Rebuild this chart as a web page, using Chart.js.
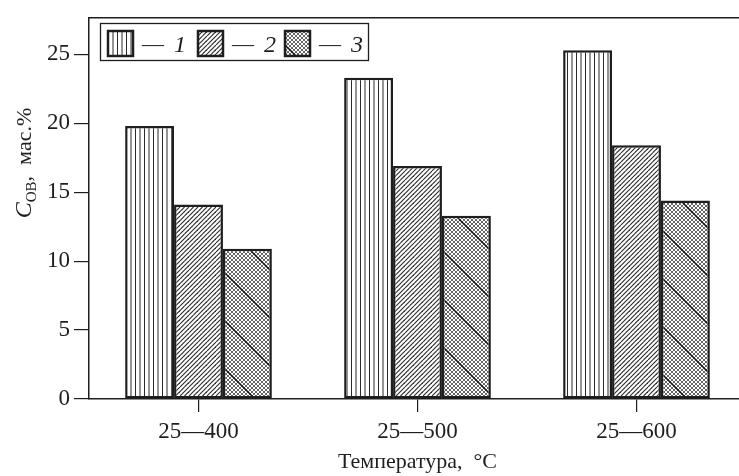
<!DOCTYPE html>
<html>
<head>
<meta charset="utf-8">
<script src="https://cdn.jsdelivr.net/npm/chart.js@4/dist/chart.umd.min.js"></script>
<style>
  html, body { margin: 0; padding: 0; background: #fff; overflow: hidden; }
  #wrap { width: 739px; height: 476px; overflow: hidden; }
</style>
</head>
<body>
<div id="wrap"><canvas id="c" width="760" height="476"></canvas></div>
<script>
const categories = ['25—400', '25—500', '25—600']
const series1 = [19.8, 23.3, 25.3]
const series2 = [14.1, 16.9, 18.4]
const series3 = [10.9, 13.3, 14.4]
const seriesLabels = ['1', '2', '3']
const yTicks = [0, 5, 10, 15, 20, 25]

const ink = '#1e1e1e'
const serif = "'Liberation Serif', 'DejaVu Serif', serif"

// hatch fills
function makeTile(size, draw) {
  const t = document.createElement('canvas')
  t.width = size; t.height = size
  const g = t.getContext('2d')
  g.fillStyle = '#fff'
  g.fillRect(0, 0, size, size)
  g.strokeStyle = '#2a2a2a'
  draw(g, size)
  return document.createElement('canvas').getContext('2d').createPattern(t, 'repeat')
}

const vertical = makeTile(9, (g) => {
  g.lineWidth = 1
  for (const x of [0.5, 5]) { g.beginPath(); g.moveTo(x, 0); g.lineTo(x, 9); g.stroke() }
})

function diag(g, s, d, dir) {
  for (let x0 = -2 * s; x0 <= 2 * s; x0 += d) {
    g.beginPath()
    if (dir > 0) { g.moveTo(x0, s); g.lineTo(x0 + s, 0) }
    else { g.moveTo(x0, 0); g.lineTo(x0 + s, s) }
    g.stroke()
  }
}

const slashes = makeTile(9, (g, s) => { g.lineWidth = 1.1; diag(g, s, 4.5, 1) })

const cross = makeTile(48, (g, s) => {
  g.strokeStyle = '#555'
  g.lineWidth = 0.9
  diag(g, s, 4, 1)
  diag(g, s, 4, -1)
  g.lineWidth = 1.5
  g.strokeStyle = '#111'
  diag(g, s, 48, -1)
})

const fills = [vertical, slashes, cross]

const frame = {
  id: 'frame',
  afterDraw(chart) {
    const { ctx, chartArea: a } = chart
    ctx.save()
    ctx.strokeStyle = ink
    ctx.lineWidth = 1.5
    ctx.beginPath(); ctx.moveTo(a.left, a.top); ctx.lineTo(a.right + 20, a.top); ctx.stroke()

    // legend box
    ctx.lineWidth = 1.3
    ctx.strokeRect(100.5, 23.5, 268, 37)
    const xs = [108, 198, 285]
    xs.forEach((x, i) => {
      ctx.fillStyle = fills[i]
      ctx.fillRect(x, 31, 25, 25)
      ctx.lineWidth = 2.5
      ctx.strokeRect(x, 31, 25, 25)
      ctx.fillStyle = ink
      ctx.textBaseline = 'alphabetic'
      ctx.textAlign = 'left'
      ctx.font = '22px ' + serif
      ctx.fillText('—', x + 34, 51)
      ctx.font = 'italic 24px ' + serif
      ctx.fillText(seriesLabels[i], x + 66, 52)
    })

    // x title
    ctx.fillStyle = ink
    ctx.font = '22px ' + serif
    ctx.textAlign = 'center'
    ctx.fillText('Температура,  °C', (a.left + a.right) / 2, 468)

    // y title with subscript
    ctx.translate(31, 163)
    ctx.rotate(-Math.PI / 2)
    const parts = [
      { t: 'C', f: 'italic 24px ' + serif, dy: 0 },
      { t: 'ОВ', f: '15px ' + serif, dy: 5 },
      { t: ',  мас.%', f: '22px ' + serif, dy: 0 },
    ]
    let w = 0
    parts.forEach(p => { ctx.font = p.f; p.w = ctx.measureText(p.t).width; w += p.w })
    let x = -w / 2
    ctx.textAlign = 'left'
    parts.forEach(p => { ctx.font = p.f; ctx.fillText(p.t, x, p.dy); x += p.w })
    ctx.restore()
  }
}

const mk = (i, data) => ({
  label: seriesLabels[i],
  data,
  backgroundColor: fills[i],
  borderColor: ink,
  borderWidth: 2.5,
  borderSkipped: false,
  categoryPercentage: 0.67,
  barPercentage: 1.0,
})

new Chart(document.getElementById('c'), {
  type: 'bar',
  data: {
    labels: categories,
    datasets: [mk(0, series1), mk(1, series2), mk(2, series3)],
  },
  options: {
    responsive: false,
    animation: false,
    layout: { padding: { top: 12, right: 14, left: 0, bottom: 0 } },
    plugins: { legend: { display: false }, tooltip: { enabled: false } },
    scales: {
      x: {
        afterFit: (s) => { s.height = 77 },
        border: { color: ink, width: 1.5 },
        grid: { offset: false, drawOnChartArea: false, tickLength: 13, color: ink, lineWidth: 1.2 },
        ticks: { color: ink, font: { family: serif, size: 23 }, padding: 6 },
      },
      y: {
        min: 0,
        max: 27.65,
        afterFit: (s) => { s.width = 89 },
        afterBuildTicks: (s) => { s.ticks = yTicks.map(v => ({ value: v })) },
        border: { color: ink, width: 1.5 },
        grid: { drawOnChartArea: false, tickLength: 15, color: ink, lineWidth: 1.2 },
        ticks: { color: ink, font: { family: serif, size: 23 }, padding: 4 },
      },
    },
  },
  plugins: [frame],
})
</script>
</body>
</html>
